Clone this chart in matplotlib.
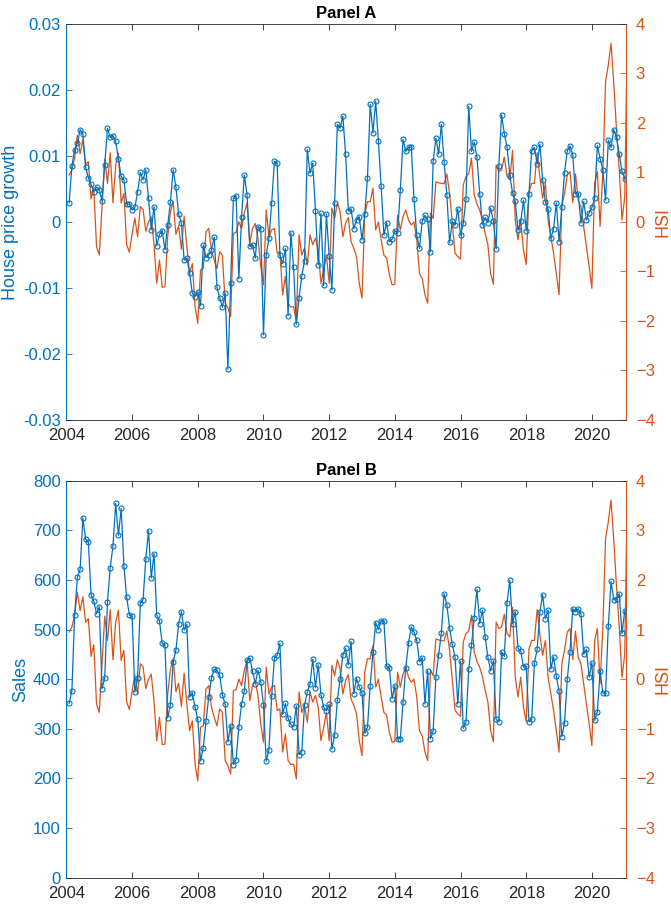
import matplotlib
matplotlib.use("Agg")
import matplotlib.pyplot as plt
import numpy as np

plt.rcParams["font.family"] = ["Liberation Sans", "DejaVu Sans"]

BLUE = "#0072BD"
ORANGE = "#D95319"
DARK = "#262626"

# monthly, Jan 2004 .. Dec 2020 (house prices / sales), HSI runs one month longer
house_growth = [
    0.0029, 0.0085, 0.0109, 0.0119, 0.0140, 0.0134, 0.0083, 0.0067, 0.0057, 0.0046,
    0.0053, 0.0049, 0.0032, 0.0087, 0.0142, 0.0128, 0.0131, 0.0122, 0.0095, 0.0069,
    0.0064, 0.0027, 0.0027, 0.0018, 0.0022, 0.0045, 0.0075, 0.0064, 0.0079, 0.0036,
    -0.0012, 0.0023, -0.0036, -0.0019, -0.0013, -0.0042, -0.0005, 0.0030, 0.0079, 0.0053,
    0.0012, -0.0002, -0.0057, -0.0055, -0.0077, -0.0108, -0.0113, -0.0106, -0.0127, -0.0035,
    -0.0054, -0.0050, -0.0043, -0.0023, -0.0099, -0.0115, -0.0129, -0.0108, -0.0223, -0.0092,
    0.0036, 0.0040, -0.0086, 0.0007, 0.0071, 0.0041, -0.0037, -0.0035, -0.0055, -0.0007,
    -0.0010, -0.0171, -0.0050, -0.0025, 0.0029, 0.0092, 0.0089, -0.0050, -0.0063, -0.0040,
    -0.0142, -0.0016, -0.0069, -0.0155, -0.0115, -0.0082, -0.0059, 0.0110, 0.0074, 0.0089,
    0.0017, -0.0065, 0.0013, -0.0096, 0.0012, -0.0052, -0.0103, 0.0029, 0.0148, 0.0142,
    0.0160, 0.0103, 0.0017, 0.0020, -0.0010, 0.0003, 0.0008, -0.0027, 0.0012, 0.0067,
    0.0178, 0.0135, 0.0183, 0.0122, 0.0054, -0.0020, -0.0001, -0.0030, -0.0026, -0.0013,
    -0.0017, 0.0048, 0.0125, 0.0107, 0.0113, 0.0114, 0.0035, -0.0020, -0.0040, 0.0001,
    0.0010, 0.0004, -0.0045, 0.0092, 0.0127, 0.0103, 0.0148, 0.0091, 0.0041, -0.0031,
    0.0001, -0.0005, 0.0020, -0.0020, -0.0002, 0.0035, 0.0175, 0.0107, 0.0121, 0.0098,
    0.0043, -0.0004, 0.0007, -0.0001, 0.0021, 0.0001, -0.0041, 0.0085, 0.0162, 0.0134,
    0.0114, 0.0071, 0.0044, 0.0031, -0.0012, 0.0001, 0.0033, -0.0013, 0.0042, 0.0108,
    0.0113, 0.0088, 0.0118, 0.0064, 0.0030, 0.0019, -0.0025, -0.0010, 0.0029, -0.0030,
    0.0023, 0.0074, 0.0108, 0.0115, 0.0102, 0.0043, 0.0043, -0.0002, 0.0031, 0.0003,
    0.0014, 0.0022, 0.0036, 0.0116, 0.0096, 0.0079, 0.0033, 0.0124, 0.0113, 0.0140,
    0.0128, 0.0103, 0.0077, 0.0065,
]

sales = [
    351, 377, 530, 605, 621, 725, 682, 676, 570, 557,
    532, 546, 381, 402, 556, 624, 668, 754, 690, 744,
    629, 565, 529, 527, 374, 402, 554, 560, 642, 699,
    604, 653, 529, 517, 472, 468, 322, 348, 435, 458,
    511, 536, 499, 511, 364, 373, 343, 319, 235, 262,
    315, 364, 403, 420, 418, 408, 369, 349, 274, 306,
    228, 238, 304, 349, 376, 438, 443, 416, 391, 418,
    395, 348, 235, 258, 366, 443, 448, 472, 329, 351,
    321, 309, 304, 346, 248, 254, 348, 374, 390, 440,
    383, 429, 369, 343, 336, 349, 259, 287, 359, 400,
    448, 462, 429, 476, 371, 401, 384, 372, 291, 303,
    387, 454, 514, 500, 518, 517, 426, 423, 361, 387,
    280, 280, 354, 423, 472, 505, 495, 478, 435, 443,
    350, 417, 280, 295, 405, 448, 494, 572, 550, 503,
    470, 444, 350, 436, 301, 313, 420, 468, 524, 581,
    512, 539, 485, 444, 417, 437, 319, 314, 455, 446,
    554, 599, 512, 536, 462, 457, 425, 426, 314, 319,
    433, 460, 536, 570, 522, 539, 420, 445, 406, 376,
    284, 311, 400, 455, 542, 536, 542, 531, 450, 460,
    404, 433, 317, 334, 416, 372, 372, 507, 597, 560,
    562, 572, 492, 537,
]

hsi = [
    0.95, 1.05, 1.30, 1.75, 1.38, 1.66, 1.15, 1.22, 0.46, 0.69,
    -0.50, -0.67, 0.30, 1.27, 0.78, 1.40, 0.39, 1.15, 1.39, 0.38,
    0.58, -0.46, -0.61, -0.24, 0.08, -0.30, 0.31, 0.25, -0.19, 0.00,
    0.10, -0.45, -1.24, -0.77, -1.32, -1.31, -0.30, 0.20, 0.41, -0.25,
    -0.08, -0.55, 0.12, -0.50, -1.04, -0.84, -1.71, -2.05, -0.97, -0.94,
    -0.20, -0.13, -0.57, -0.77, -0.94, -0.60, -0.67, -1.64, -1.74, -1.91,
    -0.23, -0.21, 0.00, -0.13, 0.18, 0.38, -0.43, -0.13, -0.03, -0.33,
    -0.90, -1.27, 0.24, -0.30, -0.16, -0.13, -0.63, -0.60, -1.47, -1.10,
    -1.64, -1.72, -1.71, -2.01, -0.26, -0.67, -0.53, -0.87, -0.26, -0.46,
    -0.33, -0.57, -1.24, -0.97, -0.67, -1.24, 0.28, 0.07, 0.39, 0.21,
    -0.30, -0.03, 0.09, -0.40, -0.53, -0.70, -1.24, -1.54, 0.14, 0.41,
    0.41, 0.68, -0.16, 0.00, -0.36, -0.67, -0.73, -1.07, -1.27, -1.26,
    0.14, -0.16, 0.11, 0.24, 0.04, -0.06, 0.00, -0.36, -1.04, -1.14,
    -1.47, -1.64, 0.18, 0.07, 0.81, 0.79, 0.78, 0.77, 0.97, 0.58,
    -0.03, -0.63, -0.70, -0.75, 0.75, 0.92, 0.97, 1.29, 0.55, 0.36,
    0.24, 0.05, -0.23, -0.46, -1.04, -1.26, 1.15, 1.02, 1.05, 1.31,
    0.92, 0.85, 1.45, 0.04, -0.36, 0.04, -0.57, -0.86, 0.60, 0.78,
    0.78, 1.40, 0.90, 0.48, 0.78, 0.04, -0.30, -0.63, -1.04, -1.47,
    0.31, 0.58, 0.95, 1.02, 0.39, 0.97, 0.44, 0.31, -0.09, -0.50,
    -0.90, -1.34, 0.78, 1.02, -0.09, 1.02, 2.84, 3.17, 3.61, 2.80,
    1.86, 1.05, 0.04, 0.50, 3.90,
]

# end-of-month dates as decimal years
t_main = 2004 + np.arange(1, len(house_growth) + 1) / 12.0
t_hsi = 2004 + np.arange(1, len(hsi) + 1) / 12.0

XLIM = (2004, 2021.04)
XTICKS = np.arange(2004, 2021, 2)


def style_axes(ax, axr, yticks, ylim, ylabel, title):
    ax.set_xlim(XLIM)
    ax.set_ylim(ylim)
    ax.set_xticks(XTICKS)
    ax.set_xticklabels([str(y) for y in XTICKS])
    ax.set_yticks(yticks)
    axr.set_ylim(-4, 4)
    axr.set_yticks(np.arange(-4, 5, 1))

    ax.tick_params(axis="x", direction="in", top=True, length=4.5, width=0.6,
                   colors=DARK, labelsize=12, pad=6)
    ax.tick_params(axis="y", direction="in", length=4.5, width=0.6,
                   colors=BLUE, labelsize=12, pad=4)
    axr.tick_params(axis="y", direction="in", length=4.5, width=0.6,
                    colors=ORANGE, labelsize=12, pad=7)

    for side in ["top", "bottom"]:
        ax.spines[side].set_color(DARK)
        ax.spines[side].set_linewidth(0.6)
        axr.spines[side].set_visible(False)
    ax.spines["left"].set_color(BLUE)
    ax.spines["left"].set_linewidth(0.8)
    ax.spines["right"].set_visible(False)
    axr.spines["left"].set_visible(False)
    axr.spines["right"].set_color(ORANGE)
    axr.spines["right"].set_linewidth(0.8)

    ax.set_ylabel(ylabel, color=BLUE, fontsize=13, labelpad=3)
    axr.set_ylabel("HSI", color=ORANGE, fontsize=13, labelpad=0)
    ax.set_title(title, fontsize=12, fontweight="bold", color="black", pad=4)


fig = plt.figure(figsize=(6.71, 9.05), dpi=100)

# Panel A
ax_a = fig.add_axes([0.099, 0.536, 0.834, 0.4375])
ax_ar = ax_a.twinx()
ax_ar.plot(t_hsi, hsi, color=ORANGE, linewidth=0.9, zorder=2)
ax_a.plot(t_main, house_growth, color=BLUE, linewidth=0.9, marker="o",
          markersize=3.6, markerfacecolor="none", markeredgewidth=0.8, zorder=3)
ax_a.set_zorder(ax_ar.get_zorder() + 1)
ax_a.patch.set_visible(False)
style_axes(ax_a, ax_ar, np.round(np.arange(-0.03, 0.031, 0.01), 2), (-0.03, 0.03),
           "House price growth", "Panel A")
ax_a.set_yticklabels(["-0.03", "-0.02", "-0.01", "0", "0.01", "0.02", "0.03"])

# Panel B
ax_b = fig.add_axes([0.099, 0.0302, 0.834, 0.4387])
ax_br = ax_b.twinx()
ax_br.plot(t_hsi, hsi, color=ORANGE, linewidth=0.9, zorder=2)
ax_b.plot(t_main, sales, color=BLUE, linewidth=0.9, marker="o",
          markersize=3.6, markerfacecolor="none", markeredgewidth=0.8, zorder=3)
ax_b.set_zorder(ax_br.get_zorder() + 1)
ax_b.patch.set_visible(False)
style_axes(ax_b, ax_br, np.arange(0, 801, 100), (0, 800), "Sales", "Panel B")

fig.savefig("out.png", dpi=100)
